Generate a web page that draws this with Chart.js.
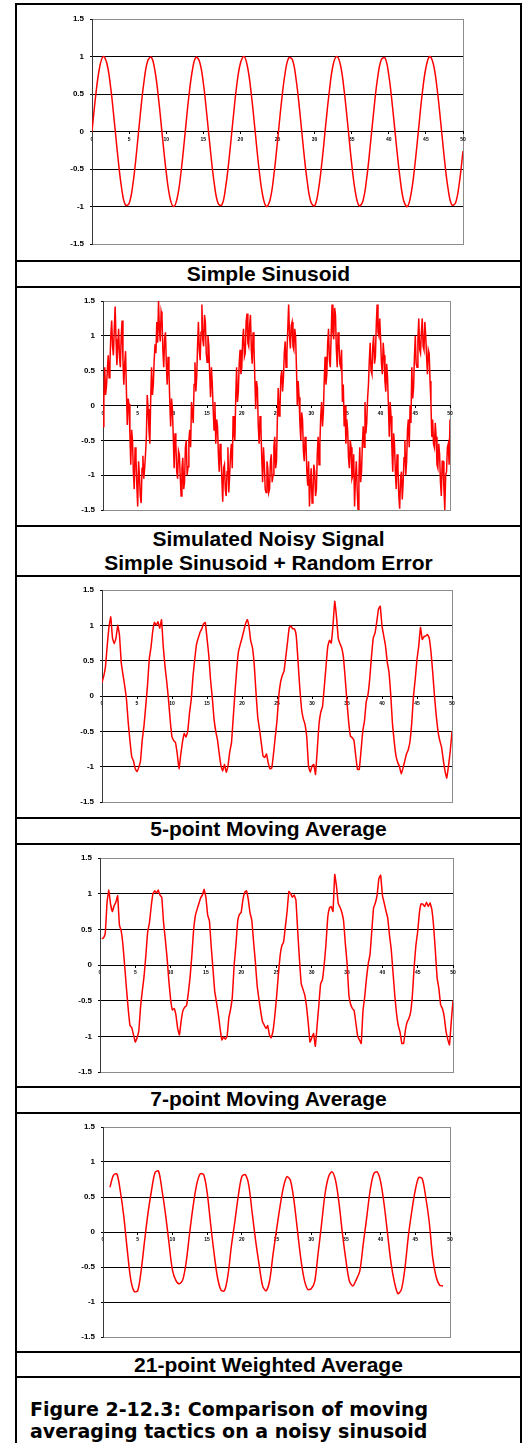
<!DOCTYPE html>
<html>
<head>
<meta charset="utf-8">
<title>Moving averages on a noisy sinusoid</title>
<script src="https://cdn.jsdelivr.net/npm/chart.js@4.4.1/dist/chart.umd.min.js"></script>
<style>
  body { margin: 0; background: #fff; }
  #page { position: relative; width: 527px; height: 1443px; overflow: hidden; background: #fff; }
  #page canvas { position: absolute; left: 17px; }
  .rule { position: absolute; background: #000; }
  .cap {
    position: absolute; left: 17px; width: 503px; text-align: center;
    font: bold 21px/24px 'Liberation Sans', Arial, sans-serif; color: #000;
  }
  .fig {
    position: absolute; left: 30px; top: 1398px; white-space: nowrap;
    font: bold 19px/22px 'DejaVu Sans', Verdana, sans-serif; color: #000;
  }
</style>
</head>
<body>
<div id="page">
  <canvas id="c1" width="503" height="255" style="top:5px"></canvas>
  <canvas id="c2" width="503" height="237" style="top:288px"></canvas>
  <canvas id="c3" width="503" height="239" style="top:577px"></canvas>
  <canvas id="c4" width="503" height="241" style="top:845px"></canvas>
  <canvas id="c5" width="503" height="237" style="top:1114px"></canvas>

  <div class="cap" style="top:262px">Simple Sinusoid</div>
  <div class="cap" style="top:527px">Simulated Noisy Signal<br>Simple Sinusoid + Random Error</div>
  <div class="cap" style="top:817px">5-point Moving Average</div>
  <div class="cap" style="top:1087px">7-point Moving Average</div>
  <div class="cap" style="top:1353px">21-point Weighted Average</div>
  <div class="fig">Figure 2-12.3: Comparison of moving<br>averaging tactics on a noisy sinusoid</div>
</div>

<script>
// axis ticks shared by every panel
var xTicks = [0, 5, 10, 15, 20, 25, 30, 35, 40, 45, 50];
var yTicks = [-1.5, -1, -0.5, 0, 0.5, 1, 1.5];

// clean signal, sampled every 0.5 from x = 0
var sinusoidX0 = 0, sinusoidDx = 0.5;
var sinusoid = [
  0, 0.48, 0.84, 1.00, 0.91, 0.60, 0.14, -0.35, -0.76, -0.98,
  -0.96, -0.71, -0.28, 0.22, 0.66, 0.94, 0.99, 0.80, 0.41, -0.08,
  -0.54, -0.88, -1.00, -0.88, -0.54, -0.07, 0.42, 0.80, 0.99, 0.93,
  0.65, 0.20, -0.29, -0.71, -0.96, -0.98, -0.75, -0.34, 0.15, 0.61,
  0.91, 1.00, 0.84, 0.47, -0.01, -0.49, -0.85, -1.00, -0.91, -0.59,
  -0.13, 0.36, 0.76, 0.98, 0.96, 0.70, 0.27, -0.23, -0.66, -0.94,
  -0.99, -0.79, -0.40, 0.09, 0.55, 0.89, 1.00, 0.88, 0.53, 0.06,
  -0.43, -0.81, -0.99, -0.93, -0.64, -0.19, 0.30, 0.72, 0.96, 0.98,
  0.75, 0.33, -0.16, -0.61, -0.92, -1.00, -0.83, -0.46, 0.02, 0.50,
  0.85, 1.00, 0.90, 0.58, 0.12, -0.37, -0.77, -0.98, -0.95, -0.69,
  -0.26
];

// sinusoid + random error, every 0.125 from x = 0 (one row = 2 units)
var noisyX0 = 0, noisyDx = 0.125;
var noisy = [
  -0.30, 0.10, 0.55, 0.15, 0.28, 0.50, 0.72, 0.40, 0.60, 1.00, 1.22, 0.85, 0.72, 1.10, 1.42, 0.95,
  0.58, 0.85, 1.10, 0.70, 0.55, 1.00, 1.22, 0.65, 0.30, 0.60, 0.78, 0.20, -0.28, 0.10, 0.02, -0.40,
  -0.85, -0.35, -0.50, -0.95, -1.20, -0.60, -0.75, -1.15, -1.45, -0.80, -1.00, -1.30, -1.40, -0.90, -0.72, -1.05,
  -0.90, -0.70, -0.45, 0.15, -0.05, -0.35, -0.55, 0.10, 0.55, 0.15, 0.30, 0.65, 0.88, 0.75, 1.20, 0.90,
  1.50, 1.10, 0.92, 1.35, 1.28, 0.80, 0.55, 0.95, 1.05, 0.60, 0.30, 0.70, 0.50, 0.05, -0.30, 0.10,
  -0.05, -0.45, -0.90, -0.40, -0.55, -0.95, -1.05, -0.65, -0.70, -1.00, -1.30, -0.90, -0.75, -1.20, -1.10, -0.60,
  -0.50, -1.00, -0.88, -0.50, -0.35, -0.60, 0.05, -0.10, -0.25, 0.30, 0.62, 0.20, 0.40, 0.85, 1.20, 0.80,
  0.65, 1.05, 1.45, 0.95, 0.85, 1.30, 1.20, 0.75, 0.62, 1.00, 0.85, 0.45, 0.12, 0.55, 0.30, -0.05,
  -0.35, 0.05, -0.55, -0.20, -0.30, -0.70, -0.95, -0.55, -0.70, -1.05, -1.38, -0.90, -0.85, -1.20, -1.30, -0.95,
  -0.60, -1.25, -1.00, -0.70, -0.55, -0.90, -0.15, -0.40, -0.50, 0.10, 0.55, 0.05, 0.20, 0.60, 0.80, 0.45,
  0.55, 0.95, 1.10, 0.70, 0.75, 1.20, 1.32, 0.90, 0.85, 1.15, 1.30, 0.80, 0.60, 1.05, 0.85, 0.40,
  -0.05, 0.35, 0.25, -0.30, -0.55, -0.15, -0.30, -0.75, -1.10, -0.60, -0.85, -1.20, -1.25, -0.80, -0.90, -1.25,
  -1.20, -0.80, -0.70, -1.10, -1.00, -0.60, -0.45, -0.90, -0.80, -0.20, 0.25, -0.15, -0.05, 0.40, 0.50, 0.20,
  0.40, 0.75, 0.92, 0.55, 0.75, 1.10, 1.45, 1.00, 0.82, 1.15, 1.20, 0.85, 0.80, 1.10, 1.00, 0.55,
  0.00, 0.35, 0.12, -0.25, -0.50, -0.10, -0.20, -0.65, -0.80, -0.45, -0.55, -0.95, -1.15, -0.80, -1.45, -1.10,
  -0.90, -1.40, -1.30, -0.85, -0.95, -1.30, -1.20, -0.70, -0.45, -0.85, -0.55, -0.15, 0.05, -0.30, -0.10, 0.35,
  0.70, 0.30, 0.45, 0.90, 1.10, 0.65, 0.55, 1.00, 1.45, 1.05, 0.95, 1.40, 1.30, 0.80, 0.55, 1.05,
  0.90, 0.60, 0.55, 0.80, 0.05, 0.30, -0.30, 0.00, -0.55, -0.20, -0.35, -0.75, -0.90, -0.50, -0.60, -1.05,
  -1.00, -0.70, -1.45, -1.05, -0.80, -1.20, -1.50, -1.00, -0.60, -1.10, -0.95, -0.55, -0.30, -0.60, 0.05, -0.40,
  -0.25, 0.10, 0.30, 0.65, 0.90, 0.50, 0.45, 0.85, 1.00, 0.60, 0.70, 1.15, 1.45, 1.05, 1.00, 1.25,
  0.95, 0.60, 0.45, 0.90, 0.72, 0.35, 0.20, 0.60, 0.40, 0.00, -0.45, 0.05, -0.15, -0.60, -0.95, -0.40,
  -0.55, -0.95, -1.20, -0.70, -0.90, -1.30, -1.48, -1.05, -0.95, -1.35, -1.10, -0.75, -0.50, -1.00, -0.80, -0.35,
  -0.20, -0.60, 0.00, -0.25, 0.55, 0.10, 0.25, 0.70, 1.00, 0.60, 0.55, 0.95, 1.25, 0.80, 0.75, 1.05,
  1.25, 0.85, 0.80, 1.20, 1.00, 0.70, 0.45, 0.80, 0.75, 0.35, 0.05, -0.45, -0.20, -0.55, -0.60, -0.25,
  -0.45, -0.85, -0.90, -0.55, -0.70, -1.10, -1.30, -0.80, -0.80, -1.20, -1.50, -1.00, -0.95, -0.60, -0.55, -0.85,
  -0.20
];

// 5-point moving average, every 0.25 from x = 0
var ma5X0 = 0, ma5Dx = 0.25;
var ma5 = [
  0.19, 0.28, 0.42, 0.72, 0.98, 1.12, 0.82, 0.74,
  0.82, 1.00, 0.86, 0.47, 0.30, 0.14, -0.05, -0.38,
  -0.64, -0.86, -0.92, -1.03, -1.07, -1.01, -0.92, -0.62,
  -0.42, -0.14, 0.15, 0.52, 0.69, 0.92, 1.04, 1.00,
  1.05, 0.96, 1.08, 0.70, 0.42, 0.20, -0.05, -0.35,
  -0.58, -0.63, -0.66, -0.82, -1.03, -0.83, -0.65, -0.53,
  -0.58, -0.50, -0.24, -0.05, 0.28, 0.52, 0.73, 0.82,
  0.90, 0.95, 1.02, 1.04, 0.82, 0.58, 0.24, -0.02,
  -0.32, -0.50, -0.62, -0.82, -0.99, -1.06, -0.97, -1.08,
  -0.99, -0.79, -0.66, -0.30, 0.05, 0.38, 0.63, 0.73,
  0.82, 0.92, 1.02, 1.08, 0.98, 0.78, 0.68, 0.44,
  0.05, -0.30, -0.47, -0.66, -0.85, -0.87, -0.82, -0.95,
  -1.03, -1.02, -0.82, -0.58, -0.35, 0.00, 0.19, 0.29,
  0.35, 0.55, 0.76, 0.97, 0.99, 0.95, 0.95, 0.85,
  0.50, 0.12, -0.18, -0.32, -0.40, -0.58, -0.99, -1.08,
  -0.99, -0.97, -1.11, -0.76, -0.40, -0.23, -0.15, 0.12,
  0.42, 0.70, 0.79, 0.75, 1.00, 1.34, 1.12, 0.82,
  0.74, 0.68, 0.54, 0.24, -0.09, -0.38, -0.57, -0.59,
  -0.63, -0.85, -1.04, -1.04, -0.78, -0.50, -0.35, -0.08,
  0.02, 0.25, 0.56, 0.82, 0.89, 1.05, 1.23, 1.27,
  0.99, 0.85, 0.71, 0.48, 0.34, 0.02, -0.40, -0.65,
  -0.85, -0.94, -1.00, -1.10, -1.02, -0.92, -0.82, -0.76,
  -0.64, -0.38, 0.00, 0.24, 0.52, 0.71, 0.97, 0.80,
  0.84, 0.85, 0.87, 0.82, 0.62, 0.33, 0.00, -0.28,
  -0.50, -0.63, -0.72, -0.90, -1.06, -1.16, -0.99, -0.78,
  -0.50
];

// 7-point moving average, every 0.25 from x = 0.25
var ma7X0 = 0.25, ma7Dx = 0.25;
var ma7 = [
  0.37, 0.38, 0.45, 0.88, 1.05, 0.85, 0.75,
  0.83, 0.88, 0.97, 0.56, 0.48, 0.28, -0.02, -0.33,
  -0.62, -0.85, -0.88, -0.98, -1.08, -1.02, -0.92, -0.58,
  -0.36, -0.15, 0.14, 0.46, 0.59, 0.82, 1.00, 1.04,
  1.01, 1.05, 0.98, 0.95, 0.60, 0.36, 0.10, -0.22,
  -0.48, -0.63, -0.61, -0.70, -0.89, -0.98, -0.78, -0.64,
  -0.59, -0.57, -0.40, -0.18, 0.12, 0.48, 0.69, 0.78,
  0.86, 0.94, 0.98, 1.06, 0.95, 0.70, 0.62, 0.26,
  -0.05, -0.37, -0.52, -0.68, -0.88, -1.05, -1.01, -1.04,
  -1.00, -0.74, -0.62, -0.44, 0.00, 0.28, 0.61, 0.71,
  0.74, 0.92, 1.02, 1.04, 0.92, 0.73, 0.63, 0.33,
  0.05, -0.28, -0.47, -0.64, -0.79, -0.84, -0.89, -0.85,
  -0.98, -1.02, -0.93, -0.72, -0.46, -0.15, 0.12, 0.27,
  0.32, 0.53, 0.75, 1.03, 1.00, 0.95, 0.98, 0.91,
  0.48, 0.08, -0.26, -0.34, -0.42, -0.58, -0.82, -1.08,
  -1.02, -0.96, -1.14, -0.85, -0.56, -0.26, -0.21, 0.00,
  0.28, 0.66, 0.80, 0.82, 0.75, 1.27, 1.10, 0.86,
  0.81, 0.74, 0.62, 0.30, 0.02, -0.42, -0.55, -0.61,
  -0.64, -0.82, -1.00, -1.05, -1.10, -0.64, -0.44, -0.18,
  0.02, 0.15, 0.48, 0.80, 0.87, 0.98, 1.21, 1.26,
  0.98, 0.87, 0.76, 0.66, 0.42, 0.22, -0.10, -0.42,
  -0.68, -0.85, -0.94, -1.10, -1.10, -0.92, -0.80, -0.75,
  -0.66, -0.42, -0.02, 0.28, 0.47, 0.74, 0.86, 0.85,
  0.82, 0.88, 0.82, 0.87, 0.78, 0.55, 0.20, -0.18,
  -0.33, -0.56, -0.61, -0.72, -0.92, -1.04, -1.12, -0.80,
  -0.50
];

// 21-point weighted average, every 0.5 from x = 1
var wa21X0 = 1, wa21Dx = 0.5;
var wa21 = [
  0.64, 0.81, 0.83, 0.58, 0.22, -0.26, -0.68, -0.85, -0.84, -0.55,
  -0.12, 0.28, 0.60, 0.85, 0.87, 0.60, 0.26, -0.15, -0.54, -0.69,
  -0.74, -0.68, -0.42, 0.00, 0.38, 0.68, 0.83, 0.82, 0.57, 0.12,
  -0.30, -0.65, -0.83, -0.84, -0.62, -0.20, 0.15, 0.52, 0.79, 0.82,
  0.67, 0.27, -0.13, -0.47, -0.77, -0.84, -0.70, -0.32, 0.03, 0.36,
  0.64, 0.79, 0.74, 0.46, 0.04, -0.38, -0.68, -0.82, -0.81, -0.71,
  -0.30, 0.12, 0.55, 0.79, 0.86, 0.74, 0.42, -0.02, -0.40, -0.70,
  -0.77, -0.68, -0.56, -0.17, 0.21, 0.60, 0.83, 0.86, 0.72, 0.40,
  -0.02, -0.44, -0.72, -0.88, -0.82, -0.52, -0.06, 0.30, 0.60, 0.78,
  0.76, 0.50, 0.15, -0.36, -0.64, -0.76, -0.77
];

function toPoints(x0, dx, ys) {
  return ys.map(function (y, i) { return { x: x0 + i * dx, y: y }; });
}

// grey frame round each plot area, under the grid lines
var plotFrame = {
  id: 'plotFrame',
  beforeDraw: function (chart) {
    var a = chart.chartArea, ctx = chart.ctx;
    ctx.save();
    ctx.strokeStyle = '#8c8c8c';
    ctx.lineWidth = 1;
    ctx.strokeRect(Math.round(a.left) + 0.5, Math.round(a.top) + 0.5,
                   Math.round(a.right - a.left), Math.round(a.bottom - a.top));
    ctx.restore();
  }
};

var FONT = "'Liberation Sans', Arial, sans-serif";
var AXIS_W = 30;

// canvases start at x = 17; frame = plot area edges on the page
var panels = [
  { id: 'c1', top: 5,    h: 255, frame: [92, 463, 19, 244],     pts: toPoints(sinusoidX0, sinusoidDx, sinusoid), tension: 0.4 },
  { id: 'c2', top: 288,  h: 237, frame: [103, 450, 301, 510],   pts: toPoints(noisyX0, noisyDx, noisy), tension: 0 },
  { id: 'c3', top: 577,  h: 239, frame: [102, 452, 590, 802],   pts: toPoints(ma5X0, ma5Dx, ma5), tension: 0.1 },
  { id: 'c4', top: 845,  h: 241, frame: [100, 453, 858, 1072],  pts: toPoints(ma7X0, ma7Dx, ma7), tension: 0.1 },
  { id: 'c5', top: 1114, h: 237, frame: [103, 450, 1127, 1337], pts: toPoints(wa21X0, wa21Dx, wa21), tension: 0.3 }
];

panels.forEach(function (p) {
  var f = p.frame;
  new Chart(document.getElementById(p.id), {
    type: 'line',
    data: {
      datasets: [{
        data: p.pts,
        borderColor: '#ff0000',
        borderWidth: 1.5,
        pointRadius: 0,
        tension: p.tension,
        fill: false
      }]
    },
    options: {
      responsive: false,
      animation: false,
      devicePixelRatio: 1,
      layout: {
        padding: {
          left: f[0] - 17 - AXIS_W,
          right: 520 - f[1],
          top: f[2] - p.top,
          bottom: p.top + p.h - f[3]
        }
      },
      plugins: { legend: { display: false }, tooltip: { enabled: false } },
      scales: {
        x: {
          type: 'linear',
          position: { y: 0 },
          min: 0,
          max: 50,
          afterBuildTicks: function (s) { s.ticks = xTicks.map(function (v) { return { value: v }; }); },
          grid: { drawOnChartArea: false, drawTicks: true, tickLength: 2, color: '#000' },
          border: { display: true, color: '#000', width: 1 },
          ticks: {
            autoSkip: false, maxRotation: 0, padding: 3, color: '#000',
            font: { family: FONT, size: 5, weight: 'bold' },
            callback: function (v) { return String(v); }
          }
        },
        y: {
          type: 'linear',
          position: 'left',
          min: -1.5,
          max: 1.5,
          afterBuildTicks: function (s) { s.ticks = yTicks.map(function (v) { return { value: v }; }); },
          afterFit: function (s) { s.width = AXIS_W; },
          grid: {
            drawTicks: true,
            tickLength: 2,
            tickColor: '#000',
            color: function (c) {
              return c.tick && Math.abs(c.tick.value) === 1.5 ? '#8c8c8c' : '#000';
            }
          },
          border: { display: true, color: '#3a3a3a', width: 1 },
          ticks: {
            padding: 6, color: '#000',
            font: { family: FONT, size: 8, weight: 'bold' },
            callback: function (v) { return String(v); }
          }
        }
      }
    },
    plugins: [plotFrame]
  });
});

// table rules: horizontal lines between rows, then the two sides
var page = document.getElementById('page');
[3, 260, 286, 525, 575, 817, 843, 1086, 1112, 1351, 1376].forEach(function (y) {
  var d = document.createElement('div');
  d.className = 'rule';
  d.style.cssText = 'left:15px;width:507px;height:2px;top:' + y + 'px';
  page.appendChild(d);
});
[15, 520].forEach(function (x) {
  var d = document.createElement('div');
  d.className = 'rule';
  d.style.cssText = 'top:3px;height:1440px;width:2px;left:' + x + 'px';
  page.appendChild(d);
});
</script>
</body>
</html>
